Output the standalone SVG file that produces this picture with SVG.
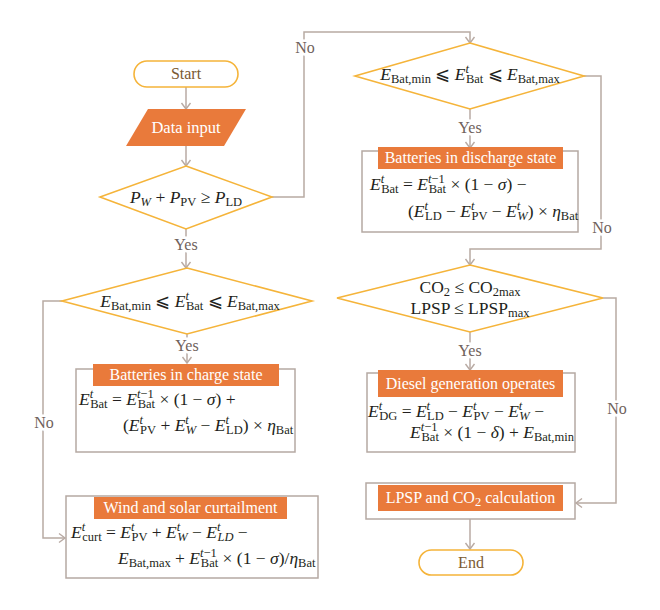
<svg xmlns="http://www.w3.org/2000/svg" width="660" height="610" viewBox="0 0 660 610" font-family="'Liberation Serif', 'DejaVu Serif', serif">
<style>
text{font-family:"Liberation Serif","DejaVu Serif",serif;}
.term{fill:#fff;stroke:#F5B43A;stroke-width:1.6;}
.dia{fill:#fff;stroke:#F5B43A;stroke-width:1.6;}
.box{fill:#fff;stroke:#B5A9A3;stroke-width:1.5;}
.hdr{fill:#E97A3B;}
.ht{fill:#fff;font-size:16px;text-anchor:middle;}
.tt{fill:#7B5A32;font-size:16px;text-anchor:middle;}
.f{fill:#231F20;font-size:17.5px;}
.c{fill:#231F20;font-size:17.5px;text-anchor:middle;}
.s{font-size:12.5px;font-style:normal;}
.i{font-style:italic;}
.con{fill:none;stroke:#B8AAA3;stroke-width:1.5;}
.lbl{fill:#6F625C;font-size:16px;text-anchor:middle;paint-order:stroke;stroke:#fff;stroke-width:5px;}
</style>
<defs>
<marker id="ar" markerUnits="userSpaceOnUse" markerWidth="12" markerHeight="12" viewBox="0 0 12 12" refX="10" refY="6" orient="auto">
<path d="M4,1.5 L10,6 L4,10.5" fill="none" stroke="#B8AAA3" stroke-width="1.4"/>
</marker>
</defs>

<g id="connectors">
<path class="con" d="M186,87 V109" marker-end="url(#ar)"/>
<path class="con" d="M186,146 V166" marker-end="url(#ar)"/>
<path class="con" d="M186,229 V268" marker-end="url(#ar)"/>
<path class="con" d="M272,197 H304 V32 H470 V43" marker-end="url(#ar)"/>
<path class="con" d="M470,109 V148" marker-end="url(#ar)"/>
<path class="con" d="M584,76 H601 V249 H470 V265" marker-end="url(#ar)"/>
<path class="con" d="M470,332 V370" marker-end="url(#ar)"/>
<path class="con" d="M603,298 H616 V503 H576" marker-end="url(#ar)"/>
<path class="con" d="M470,519 V549" marker-end="url(#ar)"/>
<path class="con" d="M187,334 V363" marker-end="url(#ar)"/>
<path class="con" d="M62,301 H43 V538 H65" marker-end="url(#ar)"/>
<text class="lbl" x="186" y="250">Yes</text>
<text class="lbl" x="305" y="53">No</text>
<text class="lbl" x="470" y="133">Yes</text>
<text class="lbl" x="602" y="233">No</text>
<text class="lbl" x="470" y="356">Yes</text>
<text class="lbl" x="617" y="414">No</text>
<text class="lbl" x="187" y="351">Yes</text>
<text class="lbl" x="44" y="428">No</text>
</g>

<g id="start">
<rect class="term" x="134" y="61" width="104" height="26" rx="13"/>
<text class="tt" x="186" y="79">Start</text>
</g>

<g id="data-input">
<polygon class="hdr" points="148,109 246,109 224,146 126,146"/>
<text class="ht" x="186" y="133" style="font-size:16.5px">Data input</text>
</g>

<g id="decision-power">
<polygon class="dia" points="186,166 272,197 186,229 100,197"/>
<text class="c" x="186" y="203"><tspan class="i">P</tspan><tspan class="s i" dy="3">W</tspan><tspan dy="-3"> + </tspan><tspan class="i">P</tspan><tspan class="s" dy="3">PV</tspan><tspan dy="-3"> ≥ </tspan><tspan class="i">P</tspan><tspan class="s" dy="3">LD</tspan></text>
</g>

<g id="decision-bat-discharge">
<polygon class="dia" points="470,43 584,76 470,109 355,76"/>
<text class="c" x="470" y="80"><tspan class="i">E</tspan><tspan class="s" dy="3">Bat,min</tspan><tspan dy="-3"> ⩽ </tspan><tspan class="i">E</tspan><tspan class="s i" dy="-7">t</tspan><tspan class="s" dx="-3" dy="10">Bat</tspan><tspan dy="-3"> ⩽ </tspan><tspan class="i">E</tspan><tspan class="s" dy="3">Bat,max</tspan></text>
</g>

<g id="discharge-state">
<rect class="box" x="362" y="151" width="216" height="81"/>
<rect class="hdr" x="378" y="147" width="185" height="22"/>
<text class="ht" x="470.5" y="163">Batteries in discharge state</text>
<text class="f" x="370" y="190"><tspan class="i">E</tspan><tspan class="s i" dy="-7">t</tspan><tspan class="s" dx="-3" dy="10">Bat</tspan><tspan dy="-3"> = </tspan><tspan class="i">E</tspan><tspan class="s" dy="-7"><tspan class="i">t</tspan>−1</tspan><tspan class="s" dx="-16" dy="10">Bat</tspan><tspan dy="-3"> × (1 − </tspan><tspan class="i">σ</tspan><tspan>) −</tspan></text>
<text class="f" x="408" y="217"><tspan>(</tspan><tspan class="i">E</tspan><tspan class="s i" dy="-7">t</tspan><tspan class="s" dx="-3" dy="10">LD</tspan><tspan dy="-3"> − </tspan><tspan class="i">E</tspan><tspan class="s i" dy="-7">t</tspan><tspan class="s" dx="-3" dy="10">PV</tspan><tspan dy="-3"> − </tspan><tspan class="i">E</tspan><tspan class="s i" dy="-7">t</tspan><tspan class="s i" dx="-3" dy="10">W</tspan><tspan dy="-3">) × </tspan><tspan class="i">η</tspan><tspan class="s" dy="3">Bat</tspan></text>
</g>

<g id="decision-emission">
<polygon class="dia" points="470,265 603,298 470,332 337,298"/>
<text class="c" x="470" y="293"><tspan>CO</tspan><tspan class="s" dy="3">2</tspan><tspan dy="-3"> ≤ CO</tspan><tspan class="s" dy="3">2max</tspan></text>
<text class="c" x="470" y="314"><tspan>LPSP ≤ LPSP</tspan><tspan class="s" dy="3">max</tspan></text>
</g>

<g id="diesel-generation">
<rect class="box" x="367" y="373" width="208" height="79"/>
<rect class="hdr" x="378" y="370" width="185" height="27"/>
<text class="ht" x="470.5" y="389">Diesel generation operates</text>
<text class="f" x="368" y="417"><tspan class="i">E</tspan><tspan class="s i" dy="-7">t</tspan><tspan class="s" dx="-3" dy="10">DG</tspan><tspan dy="-3"> = </tspan><tspan class="i">E</tspan><tspan class="s i" dy="-7">t</tspan><tspan class="s" dx="-3" dy="10">LD</tspan><tspan dy="-3"> − </tspan><tspan class="i">E</tspan><tspan class="s i" dy="-7">t</tspan><tspan class="s" dx="-3" dy="10">PV</tspan><tspan dy="-3"> − </tspan><tspan class="i">E</tspan><tspan class="s i" dy="-7">t</tspan><tspan class="s i" dx="-3" dy="10">W</tspan><tspan dy="-3"> −</tspan></text>
<text class="f" x="410" y="438"><tspan class="i">E</tspan><tspan class="s" dy="-7"><tspan class="i">t</tspan>−1</tspan><tspan class="s" dx="-16" dy="10">Bat</tspan><tspan dy="-3"> × (1 − </tspan><tspan class="i">δ</tspan><tspan>) + </tspan><tspan class="i">E</tspan><tspan class="s" dy="3">Bat,min</tspan></text>
</g>

<g id="lpsp-calculation">
<rect class="box" x="366" y="483" width="209" height="36"/>
<rect class="hdr" x="378" y="485" width="185" height="26"/>
<text class="ht" x="470.5" y="503">LPSP and CO<tspan class="s" dy="3">2</tspan><tspan dy="-3"> calculation</tspan></text>
</g>

<g id="end">
<rect class="term" x="419" y="550" width="104" height="25" rx="12.5"/>
<text class="tt" x="471" y="568">End</text>
</g>

<g id="decision-bat-charge">
<polygon class="dia" points="187,268 312,301 187,334 62,301"/>
<text class="c" x="190" y="307"><tspan class="i">E</tspan><tspan class="s" dy="3">Bat,min</tspan><tspan dy="-3"> ⩽ </tspan><tspan class="i">E</tspan><tspan class="s i" dy="-7">t</tspan><tspan class="s" dx="-3" dy="10">Bat</tspan><tspan dy="-3"> ⩽ </tspan><tspan class="i">E</tspan><tspan class="s" dy="3">Bat,max</tspan></text>
</g>

<g id="charge-state">
<rect class="box" x="76" y="369" width="219" height="83"/>
<rect class="hdr" x="93" y="364" width="186" height="22"/>
<text class="ht" x="186" y="380">Batteries in charge state</text>
<text class="f" x="79" y="405"><tspan class="i">E</tspan><tspan class="s i" dy="-7">t</tspan><tspan class="s" dx="-3" dy="10">Bat</tspan><tspan dy="-3"> = </tspan><tspan class="i">E</tspan><tspan class="s" dy="-7"><tspan class="i">t</tspan>−1</tspan><tspan class="s" dx="-16" dy="10">Bat</tspan><tspan dy="-3"> × (1 − </tspan><tspan class="i">σ</tspan><tspan>) +</tspan></text>
<text class="f" x="123" y="431"><tspan>(</tspan><tspan class="i">E</tspan><tspan class="s i" dy="-7">t</tspan><tspan class="s" dx="-3" dy="10">PV</tspan><tspan dy="-3"> + </tspan><tspan class="i">E</tspan><tspan class="s i" dy="-7">t</tspan><tspan class="s i" dx="-3" dy="10">W</tspan><tspan dy="-3"> − </tspan><tspan class="i">E</tspan><tspan class="s i" dy="-7">t</tspan><tspan class="s" dx="-3" dy="10">LD</tspan><tspan dy="-3">) × </tspan><tspan class="i">η</tspan><tspan class="s" dy="3">Bat</tspan></text>
</g>

<g id="curtailment">
<rect class="box" x="66" y="496" width="252" height="82"/>
<rect class="hdr" x="94" y="497" width="193" height="22"/>
<text class="ht" x="190.5" y="513">Wind and solar curtailment</text>
<text class="f" x="71" y="538"><tspan class="i">E</tspan><tspan class="s i" dy="-7">t</tspan><tspan class="s" dx="-3" dy="10">curt</tspan><tspan dy="-3"> = </tspan><tspan class="i">E</tspan><tspan class="s i" dy="-7">t</tspan><tspan class="s" dx="-3" dy="10">PV</tspan><tspan dy="-3"> + </tspan><tspan class="i">E</tspan><tspan class="s i" dy="-7">t</tspan><tspan class="s i" dx="-3" dy="10">W</tspan><tspan dy="-3"> − </tspan><tspan class="i">E</tspan><tspan class="s i" dy="-7">t</tspan><tspan class="s i" dx="-3" dy="10">LD</tspan><tspan dy="-3"> −</tspan></text>
<text class="f" x="118" y="564"><tspan class="i">E</tspan><tspan class="s" dy="3">Bat,max</tspan><tspan dy="-3"> + </tspan><tspan class="i">E</tspan><tspan class="s" dy="-7"><tspan class="i">t</tspan>−1</tspan><tspan class="s" dx="-16" dy="10">Bat</tspan><tspan dy="-3"> × (1 − </tspan><tspan class="i">σ</tspan><tspan>)/</tspan><tspan class="i">η</tspan><tspan class="s" dy="3">Bat</tspan></text>
</g>
</svg>
